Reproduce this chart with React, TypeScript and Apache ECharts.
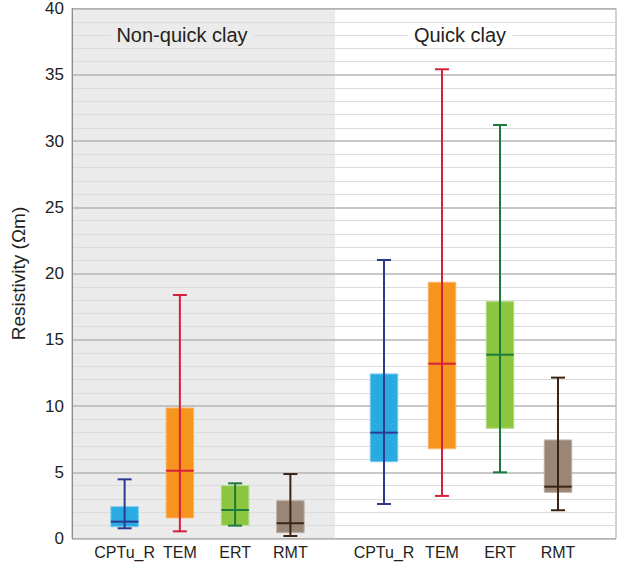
import React, { useEffect, useRef } from "react";
import * as echarts from "echarts";

// Methods (categories) in each panel
const categories = ["CPTu_R", "TEM", "ERT", "RMT"];
// Panel titles
const panelTitles = ["Non-quick clay", "Quick clay"];
// Y ticks
const yMin = 0;
const yMax = 40;
const yStep = 5;

// Box statistics: [min, Q1, median, Q3, max] in Ωm
const nonQuickCPTu = [0.77, 0.89, 1.27, 2.4, 4.46];
const nonQuickTEM = [0.54, 1.55, 5.11, 9.84, 18.36];
const nonQuickERT = [0.97, 1.0, 2.15, 3.98, 4.16];
const nonQuickRMT = [0.19, 0.44, 1.15, 2.85, 4.86];

const quickCPTu = [2.6, 5.79, 7.98, 12.41, 21.0];
const quickTEM = [3.21, 6.77, 13.18, 19.32, 35.38];
const quickERT = [4.99, 8.31, 13.86, 17.86, 31.18];
const quickRMT = [2.13, 3.48, 3.91, 7.43, 12.13];

const nonQuickStats = [nonQuickCPTu, nonQuickTEM, nonQuickERT, nonQuickRMT];
const quickStats = [quickCPTu, quickTEM, quickERT, quickRMT];

// Styles
const boxFill = ["#29abe2", "#f7941d", "#8cc63f", "#9a8677"];
const boxBorder = ["#7ccaef", "#f9b56a", "#b4da84", "#beb0a5"];
const lineColor = ["#2b3990", "#d4213d", "#1b7a3c", "#3c2415"];
const panelBg = ["#ebebeb", "#ffffff"];

const FONT = "'Liberation Sans', Arial, sans-serif";
const TEXT = "#231f20";
const BOX_W = 27.5;
const CAP_W = 14;

const renderBox = (params: any, api: any) => {
  const i = params.dataIndex;
  const x = api.value(0);
  const p = (v: number) => api.coord([x, v]);
  const [cx, yLo] = p(api.value(1));
  const yQ1 = p(api.value(2))[1];
  const yMed = p(api.value(3))[1];
  const yQ3 = p(api.value(4))[1];
  const yHi = p(api.value(5))[1];
  const h = BOX_W / 2;
  const c = CAP_W / 2;
  const lc = lineColor[i];
  return {
    type: "group",
    children: [
      {
        type: "rect",
        shape: { x: cx - h, y: yQ3, width: BOX_W, height: yQ1 - yQ3 },
        style: { fill: boxFill[i], stroke: boxBorder[i], lineWidth: 1 },
      },
      {
        type: "line",
        shape: { x1: cx, y1: yLo, x2: cx, y2: yHi },
        style: { stroke: lc, lineWidth: 2 },
      },
      {
        type: "line",
        shape: { x1: cx - h, y1: yMed, x2: cx + h, y2: yMed },
        style: { stroke: lc, lineWidth: 2 },
      },
      {
        type: "line",
        shape: { x1: cx - c, y1: yLo, x2: cx + c, y2: yLo },
        style: { stroke: lc, lineWidth: 2 },
      },
      {
        type: "line",
        shape: { x1: cx - c, y1: yHi, x2: cx + c, y2: yHi },
        style: { stroke: lc, lineWidth: 2 },
      },
    ],
  };
};

const hiddenY = (gridIndex: number) => ({
  type: "value",
  gridIndex,
  min: yMin,
  max: yMax,
  interval: yStep,
  show: false,
  splitLine: { show: false },
});

const catX = (gridIndex: number) => ({
  type: "category",
  gridIndex,
  data: categories,
  axisLine: { show: false },
  axisTick: { show: false },
  splitLine: { show: false },
  axisLabel: { interval: 0, fontFamily: FONT, fontSize: 16, color: TEXT, margin: 6 },
});

const titleText = (i: number, x: number) => ({
  type: "text",
  x,
  y: 35,
  z: 20,
  style: {
    text: panelTitles[i],
    fontFamily: FONT,
    fontSize: 20,
    fill: TEXT,
    textAlign: "center",
    textVerticalAlign: "middle",
    backgroundColor: panelBg[i],
    padding: [1, 6],
  },
});

export default function App() {
  const ref = useRef<HTMLDivElement>(null);
  useEffect(() => {
    if (!ref.current) return;
    const chart = echarts.init(ref.current, undefined, { renderer: "svg" });
    const option: any = {
      animation: false,
      backgroundColor: "#ffffff",
      grid: [
        {
          left: 72,
          top: 8,
          width: 544,
          height: 530.5,
          show: true,
          borderColor: "#a6a6a6",
          borderWidth: 1,
          backgroundColor: "transparent",
        },
        { left: 97, top: 8, width: 221, height: 530.5 },
        { left: 355, top: 8, width: 232, height: 530.5 },
      ],
      xAxis: [
        {
          type: "value",
          gridIndex: 0,
          z: -1,
          min: 0,
          max: 544,
          interval: 263,
          axisLine: { show: false },
          axisTick: { show: false },
          axisLabel: { show: false },
          splitLine: { show: false },
          splitArea: {
            show: true,
            areaStyle: { color: [panelBg[0], "rgba(255,255,255,0)", "rgba(255,255,255,0)"] },
          },
        },
        catX(1),
        catX(2),
      ],
      yAxis: [
        {
          type: "value",
          gridIndex: 0,
          z: 1,
          min: yMin,
          max: yMax,
          interval: yStep,
          name: "Resistivity (Ωm)",
          nameLocation: "middle",
          nameGap: 44,
          nameTextStyle: { fontFamily: FONT, fontSize: 19, color: TEXT },
          axisLine: { show: true, lineStyle: { color: "#8c8c8c", width: 1 } },
          axisTick: { show: false },
          axisLabel: { fontFamily: FONT, fontSize: 17, color: TEXT, margin: 8 },
          splitLine: { show: true, lineStyle: { color: "#b5b5b5", width: 1.5 } },
          minorTick: { show: false, splitNumber: 5 },
          minorSplitLine: { show: true, lineStyle: { color: "#dcdcdc", width: 1.2 } },
        },
        hiddenY(1),
        hiddenY(2),
      ],
      graphic: [titleText(0, 182), titleText(1, 460)],
      series: [
        {
          type: "custom",
          name: panelTitles[0],
          xAxisIndex: 1,
          yAxisIndex: 1,
          renderItem: renderBox,
          encode: { x: 0, y: [1, 2, 3, 4, 5] },
          data: nonQuickStats.map((s, i) => [i, ...s]),
          z: 5,
        },
        {
          type: "custom",
          name: panelTitles[1],
          xAxisIndex: 2,
          yAxisIndex: 2,
          renderItem: renderBox,
          encode: { x: 0, y: [1, 2, 3, 4, 5] },
          data: quickStats.map((s, i) => [i, ...s]),
          z: 5,
        },
      ],
    };
    chart.setOption(option);
    return () => chart.dispose();
  }, []);
  return (
    <div
      ref={ref}
      style={{ position: "fixed", left: 0, top: 0, width: 617, height: 565 }}
    />
  );
}
